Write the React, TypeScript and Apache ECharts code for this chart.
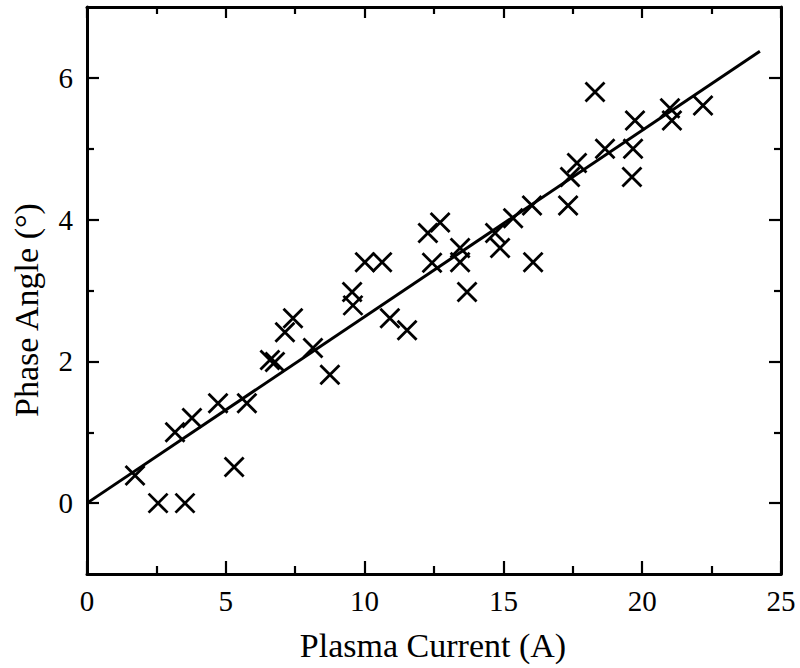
import React, { useEffect, useRef } from "react";
import * as echarts from "echarts";

const currentA = [1.73, 2.56, 3.53, 3.17, 3.78, 4.72, 5.76, 5.3, 6.59, 6.77, 7.13, 7.42, 8.14, 8.75, 9.55, 9.58, 10.01, 10.63, 10.91, 11.53, 12.28, 12.72, 12.43, 13.44, 13.44, 13.69, 14.7, 14.88, 15.35, 16.03, 16.07, 17.33, 17.4, 17.65, 18.3, 18.66, 19.63, 19.67, 19.74, 21.0, 21.07, 22.19];
const phaseDeg = [0.39, 0, 0, 1.0, 1.2, 1.41, 1.41, 0.51, 2.02, 1.99, 2.41, 2.61, 2.19, 1.81, 2.98, 2.79, 3.4, 3.4, 2.61, 2.44, 3.81, 3.96, 3.39, 3.6, 3.4, 2.98, 3.81, 3.6, 4.02, 4.2, 3.4, 4.2, 4.6, 4.8, 5.8, 5.0, 4.6, 5.0, 5.4, 5.57, 5.4, 5.61];
const fitX = [0, 24.24];
const fitY = [0, 6.375];
const xTitle = "Plasma Current (A)";
const yTitle = "Phase Angle (°)";

const FONT = "Liberation Serif";

export default function App() {
  const ref = useRef<HTMLDivElement>(null);
  useEffect(() => {
    if (!ref.current) return;
    const chart = echarts.init(ref.current, undefined, { renderer: "svg" });
    const boxTop = 7, boxBottom = 94, unit = 567 / 8;
    const lineStyle = { color: "#000", width: 3 };
    const tickLab = { fontFamily: FONT, fontSize: 29, color: "#000" };
    const tickStyle = { color: "#000", width: 2.2 };
    chart.setOption({
      animation: false,
      backgroundColor: "#fff",
      textStyle: { fontFamily: FONT },
      grid: [
        { left: 87, right: 19, top: boxTop, bottom: boxBottom },
        { left: 87, right: 19, top: boxTop + unit, bottom: boxBottom + unit },
      ],
      xAxis: [
        {
          gridIndex: 0, type: "value", position: "bottom", min: 0, max: 25, interval: 5,
          axisLine: { show: true, onZero: false, lineStyle },
          axisTick: { show: true, inside: true, length: 13, lineStyle: tickStyle },
          minorTick: { show: true, splitNumber: 2, length: 8, lineStyle: tickStyle },
          axisLabel: { ...tickLab, margin: 12 },
          splitLine: { show: false },
        },
        {
          gridIndex: 0, type: "value", position: "top", min: 0, max: 25, interval: 5,
          axisLine: { show: true, onZero: false, lineStyle },
          axisTick: { show: true, inside: true, length: 11, lineStyle: tickStyle },
          minorTick: { show: true, splitNumber: 2, length: 7, lineStyle: tickStyle },
          axisLabel: { show: false },
          splitLine: { show: false },
        },
        {
          gridIndex: 1, type: "value", min: 0, max: 25, show: false,
        },
      ],
      yAxis: [
        {
          gridIndex: 0, type: "value", position: "left", min: -1, max: 7, interval: 1,
          axisLine: { show: true, onZero: false, lineStyle },
          axisTick: { show: false }, axisLabel: { show: false }, splitLine: { show: false },
        },
        {
          gridIndex: 0, type: "value", position: "right", min: -1, max: 7, interval: 1,
          axisLine: { show: true, onZero: false, lineStyle },
          axisTick: { show: false }, axisLabel: { show: false }, splitLine: { show: false },
        },
        {
          gridIndex: 1, type: "value", position: "left", min: 0, max: 6, interval: 2,
          axisLine: { show: false, onZero: false },
          axisTick: { show: true, inside: true, length: 12, lineStyle: tickStyle },
          minorTick: { show: true, splitNumber: 2, length: 7, lineStyle: tickStyle },
          axisLabel: { ...tickLab, margin: 14 },
          splitLine: { show: false },
        },
        {
          gridIndex: 1, type: "value", position: "right", min: 0, max: 6, interval: 2,
          axisLine: { show: false, onZero: false },
          axisTick: { show: true, inside: true, length: 12, lineStyle: tickStyle },
          minorTick: { show: true, splitNumber: 2, length: 7, lineStyle: tickStyle },
          axisLabel: { show: false },
          splitLine: { show: false },
        },
      ],
      graphic: [
        {
          type: "text", x: 433, y: 645,
          style: { text: xTitle, fontFamily: FONT, fontSize: 34, fill: "#000", textAlign: "center", textVerticalAlign: "middle" },
        },
        {
          type: "text", x: 26, y: 310, rotation: Math.PI / 2,
          style: { text: yTitle, fontFamily: FONT, fontSize: 34, fill: "#000", textAlign: "center", textVerticalAlign: "middle" },
        },
      ],
      series: [
        {
          type: "line", xAxisIndex: 0, yAxisIndex: 0,
          data: fitX.map((x, i) => [x, fitY[i]]),
          showSymbol: false, symbol: "none",
          lineStyle: { color: "#000", width: 3 },
          silent: true,
        },
        {
          type: "scatter", xAxisIndex: 0, yAxisIndex: 0,
          data: currentA.map((x, i) => [x, phaseDeg[i]]),
          symbol: "path://M0,0L10,10M10,0L0,10",
          symbolSize: 19,
          itemStyle: { color: "none", borderColor: "#000", borderWidth: 2.8, opacity: 1 },
        },
      ],
    });
    return () => chart.dispose();
  }, []);
  return <div ref={ref} style={{ width: 800, height: 668, position: "absolute", left: 0, top: 0 }} />;
}
